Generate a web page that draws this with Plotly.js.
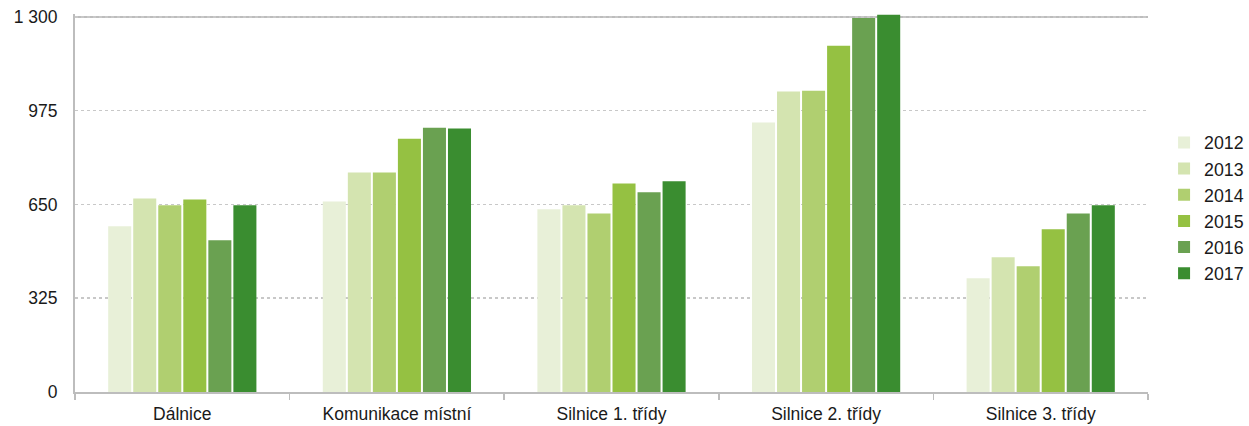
<!DOCTYPE html>
<html>
<head>
<meta charset="utf-8">
<script src="https://cdn.plot.ly/plotly-3.0.1.min.js"></script>
<style>html,body{margin:0;padding:0;background:#fff}</style>
</head>
<body>
<div id="chart" style="width:1249px;height:426px"></div>
<script>
const categories = ["Dálnice", "Komunikace místní", "Silnice 1. třídy", "Silnice 2. třídy", "Silnice 3. třídy"];
const years = ["2012", "2013", "2014", "2015", "2016", "2017"];
const v2012 = [574, 660, 633, 934, 394];
const v2013 = [671, 761, 647, 1041, 467];
const v2014 = [647, 761, 619, 1044, 436];
const v2015 = [667, 878, 723, 1200, 564];
const v2016 = [526, 916, 692, 1296, 619];
const v2017 = [647, 913, 730, 1307, 647];
const seriesValues = [v2012, v2013, v2014, v2015, v2016, v2017];
const colors = ["#e8f0d8", "#d4e4b0", "#b0cf70", "#95c142", "#6aa151", "#3a8d30"];
const yTickVals = [0, 325, 650, 975, 1300];
const yTickText = ["0", "325", "650", "975", "1 300"];

const FONT = "Liberation Sans, Arial, sans-serif";
const FS = 17.5;

const data = years.map((y, i) => ({
  type: "bar",
  name: y,
  x: categories,
  y: seriesValues[i],
  marker: {color: colors[i], line: {width: 0}},
  hoverinfo: "x+y+name"
}));

const layout = {
  width: 1249,
  height: 426,
  margin: {l: 75, r: 101, t: 14, b: 34},
  paper_bgcolor: "#ffffff",
  plot_bgcolor: "#ffffff",
  font: {family: FONT, size: FS, color: "#1a1a1a"},
  barmode: "group",
  bargap: 0.3,
  bargroupgap: 0.08,
  showlegend: true,
  legend: {
    xref: "container", yref: "container",
    x: 0.932, xanchor: "left",
    y: 0.708, yanchor: "top",
    font: {family: FONT, size: 17.8, color: "#1a1a1a"},
    traceorder: "normal",
    bgcolor: "rgba(0,0,0,0)",
    itemwidth: 30
  },
  xaxis: {
    type: "category",
    showgrid: false,
    showline: true,
    linecolor: "#bdbdbd",
    linewidth: 2,
    ticks: "outside",
    tickson: "boundaries",
    ticklen: 6,
    tickwidth: 1.5,
    tickcolor: "#bdbdbd",
    ticklabelstandoff: 5,
    tickfont: {family: FONT, size: FS, color: "#1a1a1a"},
    fixedrange: true
  },
  yaxis: {
    range: [0, 1310],
    tickvals: yTickVals,
    ticktext: yTickText,
    showgrid: true,
    gridcolor: "#c8c8c8",
    griddash: "dot",
    gridwidth: 1.5,
    zeroline: false,
    showline: true,
    linecolor: "#bdbdbd",
    linewidth: 2,
    ticks: "",
    ticklabelstandoff: 12,
    tickfont: {family: FONT, size: FS, color: "#1a1a1a"},
    fixedrange: true
  },
  shapes: [{
    type: "line", xref: "paper", yref: "y",
    x0: 0, x1: 1, y0: 1300, y1: 1300,
    line: {color: "#bdbdbd", width: 2},
    layer: "below"
  }]
};

Plotly.newPlot("chart", data, layout, {displayModeBar: false, staticPlot: true});
</script>
</body>
</html>
